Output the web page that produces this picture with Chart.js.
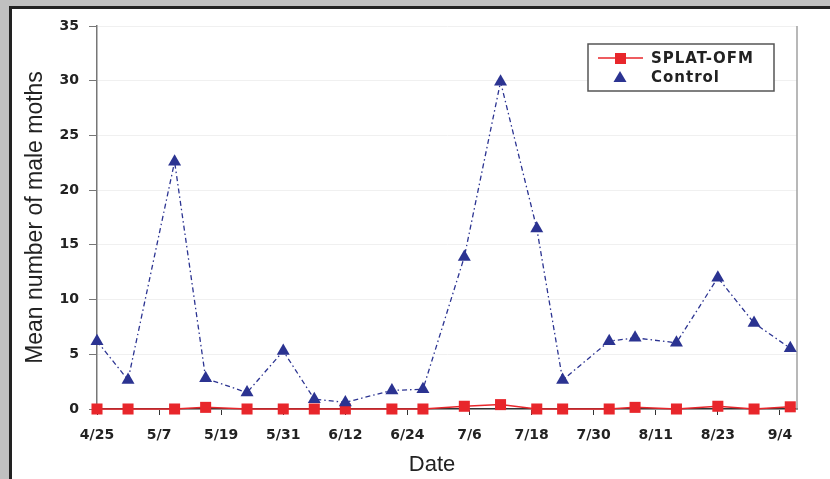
<!DOCTYPE html>
<html>
<head>
<meta charset="utf-8">
<script src="https://cdn.jsdelivr.net/npm/chart.js@4/dist/chart.umd.min.js"></script>
<style>
  html, body { margin: 0; padding: 0; background: #c0c0c0; }
  #wrap { position: relative; width: 830px; height: 479px; overflow: hidden; }
  #panel { position: absolute; left: 9px; top: 6px; right: 0; bottom: 0;
           background: #fff; border-left: 3px solid #222; border-top: 3px solid #222; }
  #chart { position: absolute; left: 0; top: 0; }
</style>
</head>
<body>
<div id="wrap">
  <div id="panel"></div>
  <canvas id="chart" width="830" height="479"></canvas>
</div>
<script>
// === Data ===
const sampleDates = ['4/25', '5/1', '5/10', '5/16', '5/24', '5/31', '6/6', '6/12', '6/21', '6/27',
                     '7/5', '7/12', '7/19', '7/24', '8/2', '8/7', '8/15', '8/23', '8/30', '9/6'];
const splatValues = [0, 0, 0, 0.15, 0, 0, 0, 0, 0, 0,
                     0.25, 0.4, 0, 0, 0, 0.15, 0, 0.25, 0, 0.2];
const controlValues = [6.2, 2.65, 22.6, 2.8, 1.5, 5.3, 0.9, 0.6, 1.7, 1.8,
                       13.9, 29.9, 16.5, 2.65, 6.2, 6.5, 6.05, 12.0, 7.85, 5.55];
const tickLabels = ['4/25', '5/7', '5/19', '5/31', '6/12', '6/24', '7/6', '7/18', '7/30', '8/11', '8/23', '9/4'];
const seriesNames = ['SPLAT-OFM', 'Control'];

// days counted from the first sampling date
function dayOffset(md) {
    const [m, d] = md.split('/').map(Number);
    const [m0, d0] = sampleDates[0].split('/').map(Number);
    return (Date.UTC(2000, m - 1, d) - Date.UTC(2000, m0 - 1, d0)) / 86400000;
}
const toPoints = vals => sampleDates.map((md, i) => ({ x: dayOffset(md), y: vals[i] }));

const RED = '#e8262b';
const NAVY = '#2b3391';

// === Legend drawn inside the plot, like the original ===
const boxLegend = {
    id: 'boxLegend',
    afterDraw(chart) {
        const ctx = chart.ctx;
        const x0 = 588, y0 = 44, w = 186, h = 47;
        ctx.save();
        ctx.fillStyle = '#fff';
        ctx.fillRect(x0, y0, w, h);
        ctx.strokeStyle = '#555';
        ctx.lineWidth = 1.5;
        ctx.strokeRect(x0, y0, w, h);

        // SPLAT-OFM row
        ctx.strokeStyle = RED;
        ctx.lineWidth = 1.5;
        ctx.beginPath();
        ctx.moveTo(598, 58);
        ctx.lineTo(643, 58);
        ctx.stroke();
        ctx.fillStyle = RED;
        ctx.fillRect(615, 53, 11, 11);

        // Control row
        ctx.fillStyle = NAVY;
        ctx.beginPath();
        ctx.moveTo(620, 71);
        ctx.lineTo(626.5, 82);
        ctx.lineTo(613.5, 82);
        ctx.closePath();
        ctx.fill();

        ctx.fillStyle = '#222';
        ctx.font = 'bold 15px "DejaVu Sans"';
        ctx.letterSpacing = '1px';
        ctx.textBaseline = 'middle';
        ctx.fillText(seriesNames[0], 651, 59);
        ctx.fillText(seriesNames[1], 651, 78);
        ctx.restore();
    }
};

// === Plot frame (right edge) and the x axis title, set a little left of centre ===
const plotFrame = {
    id: 'plotFrame',
    beforeDatasetsDraw(chart) {
        const { ctx, chartArea: a } = chart;
        ctx.save();
        ctx.strokeStyle = '#a0a0a0';
        ctx.lineWidth = 1.5;
        ctx.beginPath();
        ctx.moveTo(a.right, a.top);
        ctx.lineTo(a.right, a.bottom);
        ctx.stroke();
        ctx.restore();
    },
    afterDraw(chart) {
        const { ctx, chartArea: a } = chart;
        ctx.save();
        ctx.fillStyle = '#222';
        ctx.font = '22px "Liberation Sans"';
        ctx.textAlign = 'center';
        ctx.textBaseline = 'middle';
        ctx.fillText('Date', (a.left + a.right) / 2 - 15, 465);
        ctx.restore();
    }
};

const ctx = document.getElementById('chart').getContext('2d');
new Chart(ctx, {
    type: 'line',
    data: {
        datasets: [{
            label: seriesNames[1],
            data: toPoints(controlValues),
            borderColor: NAVY,
            backgroundColor: NAVY,
            borderWidth: 1.3,
            borderDash: [5, 3, 1.5, 3],
            pointStyle: 'triangle',
            pointRadius: 7.5,
            pointHoverRadius: 7.5,
            pointBorderWidth: 0,
            tension: 0,
            clip: false
        }, {
            label: seriesNames[0],
            data: toPoints(splatValues),
            borderColor: RED,
            backgroundColor: RED,
            borderWidth: 1.5,
            pointStyle: 'rect',
            pointRadius: 7.8,
            pointHoverRadius: 7.8,
            pointBorderWidth: 0,
            tension: 0,
            clip: false
        }]
    },
    options: {
        responsive: false,
        animation: false,
        layout: { padding: { left: 0, top: 26, right: 33, bottom: 0 } },
        plugins: {
            legend: { display: false },
            tooltip: { enabled: false }
        },
        scales: {
            x: {
                type: 'linear',
                min: 0,
                max: 135.3,
                afterFit: s => { s.height = 70; },
                ticks: {
                    stepSize: 12,
                    includeBounds: false,
                    autoSkip: false,
                    maxRotation: 0,
                    padding: 12,
                    color: '#222',
                    font: { family: 'DejaVu Sans', weight: 'bold', size: 14 },
                    callback: v => tickLabels[Math.round(v / 12)]
                },
                grid: { drawOnChartArea: false, drawTicks: true, tickLength: 6, color: '#333' },
                border: { color: '#333', width: 1.5 }
            },
            y: {
                min: 0,
                max: 35,
                afterFit: s => { s.width = 97; },
                ticks: {
                    stepSize: 5,
                    padding: 10,
                    color: '#222',
                    font: { family: 'DejaVu Sans', weight: 'bold', size: 14 }
                },
                grid: { color: '#f0f0f0', tickColor: '#777', tickLength: 8, lineWidth: 1 },
                border: { color: '#777', width: 1.5 },
                title: {
                    display: true,
                    text: 'Mean number of male moths',
                    color: '#222',
                    font: { family: 'Liberation Sans', size: 23 },
                    padding: { top: 22, bottom: 0 }
                }
            }
        }
    },
    plugins: [plotFrame, boxLegend]
});
</script>
</body>
</html>
